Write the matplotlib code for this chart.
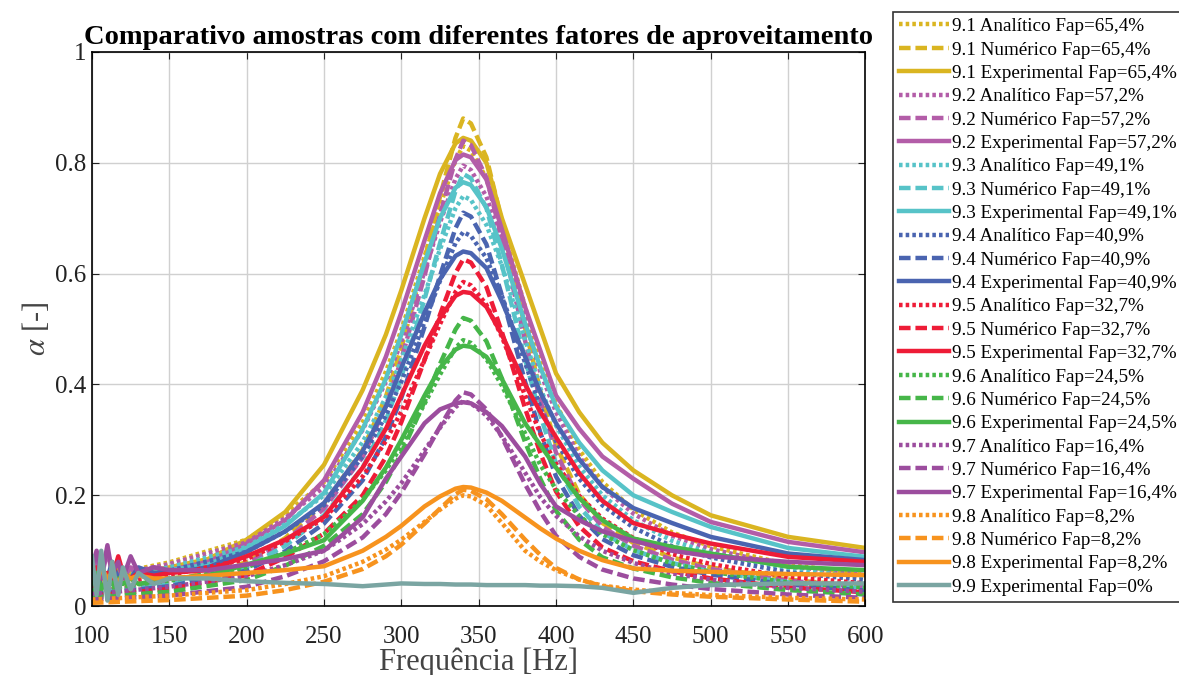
import matplotlib
matplotlib.use("Agg")
import matplotlib.pyplot as plt

plt.rcParams['font.family'] = ['Liberation Serif', 'DejaVu Serif']
plt.rcParams['mathtext.fontset'] = 'stix'

# frequency grids (Hz)
f_mod = [100, 150, 200, 225, 250, 275, 290, 300, 315, 325, 335, 340, 345, 355, 365, 380, 390, 400,
         415, 430, 450, 475, 500, 550, 600]
f_exp = [100, 103, 106, 110, 113, 117, 120, 125, 130, 140, 150, 175, 200, 225,
         250, 275, 290, 300, 315, 325, 335, 340, 345, 355, 365, 380, 390, 400, 415, 430, 450, 475, 500, 550, 600]

# analytic (dotted)
ana_91 = [0.050, 0.079, 0.120, 0.166, 0.224, 0.332, 0.423, 0.498, 0.631, 0.722, 0.805, 0.830, 0.822, 0.772, 0.689, 0.540, 0.440, 0.365, 0.282, 0.224, 0.174, 0.133, 0.108, 0.075, 0.058]
ana_92 = [0.048, 0.076, 0.115, 0.159, 0.215, 0.318, 0.405, 0.477, 0.604, 0.692, 0.771, 0.795, 0.787, 0.739, 0.660, 0.517, 0.421, 0.350, 0.270, 0.215, 0.167, 0.127, 0.103, 0.072, 0.056]
ana_93 = [0.044, 0.070, 0.107, 0.148, 0.200, 0.296, 0.377, 0.444, 0.562, 0.644, 0.718, 0.740, 0.733, 0.688, 0.614, 0.481, 0.392, 0.326, 0.252, 0.200, 0.155, 0.118, 0.096, 0.067, 0.052]
ana_94 = [0.041, 0.064, 0.098, 0.135, 0.182, 0.270, 0.344, 0.405, 0.513, 0.587, 0.655, 0.675, 0.668, 0.628, 0.560, 0.439, 0.358, 0.297, 0.230, 0.182, 0.142, 0.108, 0.088, 0.061, 0.047]
ana_95 = [0.035, 0.056, 0.085, 0.117, 0.158, 0.234, 0.298, 0.351, 0.445, 0.509, 0.567, 0.585, 0.579, 0.544, 0.486, 0.380, 0.310, 0.257, 0.199, 0.158, 0.123, 0.094, 0.076, 0.053, 0.041]
ana_96 = [0.029, 0.046, 0.070, 0.096, 0.130, 0.192, 0.245, 0.288, 0.365, 0.418, 0.466, 0.480, 0.475, 0.446, 0.398, 0.312, 0.254, 0.211, 0.163, 0.130, 0.101, 0.077, 0.062, 0.043, 0.034]
ana_97 = [0.022, 0.035, 0.054, 0.074, 0.100, 0.148, 0.189, 0.222, 0.281, 0.322, 0.359, 0.370, 0.366, 0.344, 0.307, 0.241, 0.196, 0.163, 0.126, 0.100, 0.078, 0.059, 0.048, 0.033, 0.026]
ana_98 = [0.012, 0.019, 0.029, 0.040, 0.054, 0.080, 0.102, 0.120, 0.152, 0.174, 0.194, 0.200, 0.198, 0.182, 0.150, 0.100, 0.080, 0.065, 0.048, 0.037, 0.030, 0.024, 0.020, 0.015, 0.012]

# numeric (dashed)
num_91 = [0.026, 0.044, 0.079, 0.123, 0.185, 0.282, 0.378, 0.466, 0.625, 0.739, 0.845, 0.880, 0.871, 0.810, 0.695, 0.502, 0.387, 0.290, 0.202, 0.150, 0.114, 0.088, 0.070, 0.048, 0.035]
num_92 = [0.025, 0.042, 0.076, 0.118, 0.176, 0.269, 0.361, 0.445, 0.596, 0.706, 0.806, 0.840, 0.832, 0.773, 0.664, 0.479, 0.370, 0.277, 0.193, 0.143, 0.109, 0.084, 0.067, 0.046, 0.034]
num_93 = [0.023, 0.039, 0.070, 0.109, 0.164, 0.250, 0.335, 0.413, 0.554, 0.655, 0.749, 0.780, 0.772, 0.718, 0.616, 0.445, 0.343, 0.257, 0.179, 0.133, 0.101, 0.078, 0.062, 0.043, 0.031]
num_94 = [0.021, 0.036, 0.064, 0.099, 0.149, 0.227, 0.305, 0.376, 0.504, 0.596, 0.682, 0.710, 0.703, 0.653, 0.561, 0.405, 0.312, 0.234, 0.163, 0.121, 0.092, 0.071, 0.057, 0.039, 0.028]
num_95 = [0.019, 0.031, 0.056, 0.088, 0.131, 0.200, 0.269, 0.332, 0.444, 0.526, 0.601, 0.626, 0.620, 0.576, 0.495, 0.357, 0.275, 0.207, 0.144, 0.106, 0.081, 0.063, 0.050, 0.034, 0.025]
num_96 = [0.016, 0.026, 0.047, 0.073, 0.109, 0.166, 0.224, 0.276, 0.369, 0.437, 0.499, 0.520, 0.515, 0.478, 0.411, 0.296, 0.229, 0.172, 0.120, 0.088, 0.068, 0.052, 0.042, 0.029, 0.021]
num_97 = [0.012, 0.019, 0.035, 0.054, 0.081, 0.124, 0.166, 0.205, 0.274, 0.324, 0.371, 0.386, 0.382, 0.355, 0.305, 0.220, 0.170, 0.127, 0.089, 0.066, 0.050, 0.039, 0.031, 0.021, 0.015]
num_98 = [0.006, 0.011, 0.019, 0.029, 0.044, 0.067, 0.090, 0.111, 0.149, 0.176, 0.202, 0.210, 0.208, 0.193, 0.166, 0.120, 0.092, 0.069, 0.048, 0.036, 0.027, 0.021, 0.017, 0.012, 0.008]

# experimental (solid)
exp_91 = [0.05, 0.07, 0.04, 0.06, 0.05, 0.07, 0.05, 0.06, 0.055, 0.065, 0.07, 0.085, 0.12, 0.17,
          0.255, 0.39, 0.49, 0.57, 0.70, 0.78, 0.835, 0.845, 0.84, 0.80, 0.70, 0.58, 0.50, 0.42, 0.35, 0.295, 0.245, 0.20, 0.164, 0.125, 0.105]
exp_92 = [0.06, 0.09, 0.05, 0.10, 0.06, 0.08, 0.05, 0.07, 0.06, 0.07, 0.065, 0.08, 0.113, 0.155,
          0.227, 0.35, 0.45, 0.53, 0.66, 0.745, 0.805, 0.815, 0.81, 0.77, 0.68, 0.54, 0.46, 0.38, 0.32, 0.27, 0.23, 0.185, 0.152, 0.116, 0.097]
exp_93 = [0.08, 0.04, 0.07, 0.05, 0.06, 0.05, 0.06, 0.05, 0.06, 0.06, 0.065, 0.075, 0.105, 0.145,
          0.204, 0.32, 0.41, 0.49, 0.62, 0.70, 0.755, 0.765, 0.76, 0.72, 0.645, 0.51, 0.43, 0.36, 0.295, 0.245, 0.20, 0.17, 0.143, 0.105, 0.089]
exp_94 = [0.06, 0.05, 0.07, 0.05, 0.08, 0.05, 0.06, 0.05, 0.07, 0.06, 0.06, 0.07, 0.098, 0.135,
          0.186, 0.28, 0.36, 0.43, 0.53, 0.59, 0.632, 0.64, 0.637, 0.61, 0.55, 0.45, 0.385, 0.33, 0.265, 0.215, 0.177, 0.15, 0.125, 0.095, 0.083]
exp_95 = [0.05, 0.07, 0.05, 0.06, 0.05, 0.09, 0.06, 0.05, 0.06, 0.055, 0.06, 0.065, 0.09, 0.12,
          0.161, 0.25, 0.32, 0.38, 0.47, 0.52, 0.56, 0.567, 0.565, 0.54, 0.49, 0.40, 0.35, 0.305, 0.24, 0.19, 0.15, 0.13, 0.113, 0.089, 0.08]
exp_96 = [0.04, 0.06, 0.03, 0.05, 0.04, 0.05, 0.04, 0.05, 0.04, 0.045, 0.05, 0.055, 0.075, 0.095,
          0.119, 0.19, 0.25, 0.30, 0.38, 0.43, 0.463, 0.47, 0.468, 0.45, 0.41, 0.33, 0.29, 0.25, 0.195, 0.155, 0.122, 0.107, 0.095, 0.071, 0.065]
exp_97 = [0.07, 0.10, 0.05, 0.11, 0.06, 0.08, 0.05, 0.09, 0.06, 0.07, 0.065, 0.065, 0.075, 0.085,
          0.10, 0.16, 0.23, 0.27, 0.33, 0.355, 0.366, 0.368, 0.366, 0.35, 0.325, 0.27, 0.22, 0.18, 0.155, 0.135, 0.118, 0.10, 0.09, 0.08, 0.074]
exp_98 = [0.06, 0.04, 0.07, 0.05, 0.06, 0.04, 0.06, 0.05, 0.055, 0.05, 0.05, 0.055, 0.06, 0.065,
          0.072, 0.10, 0.125, 0.145, 0.18, 0.198, 0.212, 0.215, 0.214, 0.205, 0.19, 0.16, 0.14, 0.122, 0.10, 0.083, 0.068, 0.064, 0.062, 0.058, 0.056]
exp_99 = [0.09, 0.02, 0.10, 0.01, 0.08, 0.02, 0.07, 0.03, 0.06, 0.04, 0.05, 0.05, 0.045, 0.042,
          0.04, 0.036, 0.039, 0.041, 0.04, 0.04, 0.039, 0.039, 0.039, 0.038, 0.038, 0.038, 0.037, 0.037, 0.036, 0.033, 0.024, 0.033, 0.038, 0.041, 0.041]

samples = ['9.1', '9.2', '9.3', '9.4', '9.5', '9.6', '9.7', '9.8']
faps = ['65,4', '57,2', '49,1', '40,9', '32,7', '24,5', '16,4', '8,2']
colors = ['#DAB521', '#B35DA8', '#57C3C8', '#4A64B0', '#EE1C37', '#46B649', '#9C4D9E', '#F7931E']
ana = [ana_91, ana_92, ana_93, ana_94, ana_95, ana_96, ana_97, ana_98]
num = [num_91, num_92, num_93, num_94, num_95, num_96, num_97, num_98]
exp = [exp_91, exp_92, exp_93, exp_94, exp_95, exp_96, exp_97, exp_98]

fig = plt.figure(figsize=(11.79, 6.75), dpi=100)
ax = fig.add_axes([0.078, 0.102, 0.656, 0.821])

lw = 3.2
for s, fp, c, a, n, e in zip(samples, faps, colors, ana, num, exp):
    ax.plot(f_mod, a, color=c, lw=lw, linestyle=(0, (0.8, 0.7)), label=s + ' Analítico Fap=' + fp + '%')
    ax.plot(f_mod, n, color=c, lw=lw, linestyle=(0, (2.6, 1.1)), label=s + ' Numérico Fap=' + fp + '%')
    ax.plot(f_exp, e, color=c, lw=lw, label=s + ' Experimental Fap=' + fp + '%')
ax.plot(f_exp, exp_99, color='#7AA5A2', lw=lw, label='9.9 Experimental Fap=0%')

ax.set_xlim(100, 600)
ax.set_ylim(0, 1)
ax.set_xticks(range(100, 601, 50))
ax.set_yticks([0, 0.2, 0.4, 0.6, 0.8, 1])
ax.set_yticklabels(['0', '0.2', '0.4', '0.6', '0.8', '1'])
ax.tick_params(direction='in', labelsize=18, length=5, top=True, right=True, colors='#222222')
ax.tick_params(axis='x', pad=14)
ax.tick_params(axis='y', pad=4)
ax.grid(True, color='#d0d0d0', lw=1)
ax.set_axisbelow(True)
for sp in ax.spines.values():
    sp.set_linewidth(1.2)

ax.set_xlabel('Frequência [Hz]', fontsize=22, color='#444444', labelpad=0)
ax.set_ylabel(r'$\alpha$ [-]', fontsize=22, color='#444444', labelpad=2)
ax.set_title('Comparativo amostras com diferentes fatores de aproveitamento', fontsize=20.5, fontweight='bold', pad=6)

leg = ax.legend(loc='upper left', bbox_to_anchor=(893 / 1179, 1 - 12 / 675), bbox_transform=fig.transFigure,
                borderaxespad=0, fontsize=13.8, handlelength=2.6, handletextpad=0.2, labelspacing=0.31,
                fancybox=False, edgecolor='#333333', framealpha=1, borderpad=0.3)
leg.get_frame().set_linewidth(1.2)

fig.savefig('out.png', dpi=100)
